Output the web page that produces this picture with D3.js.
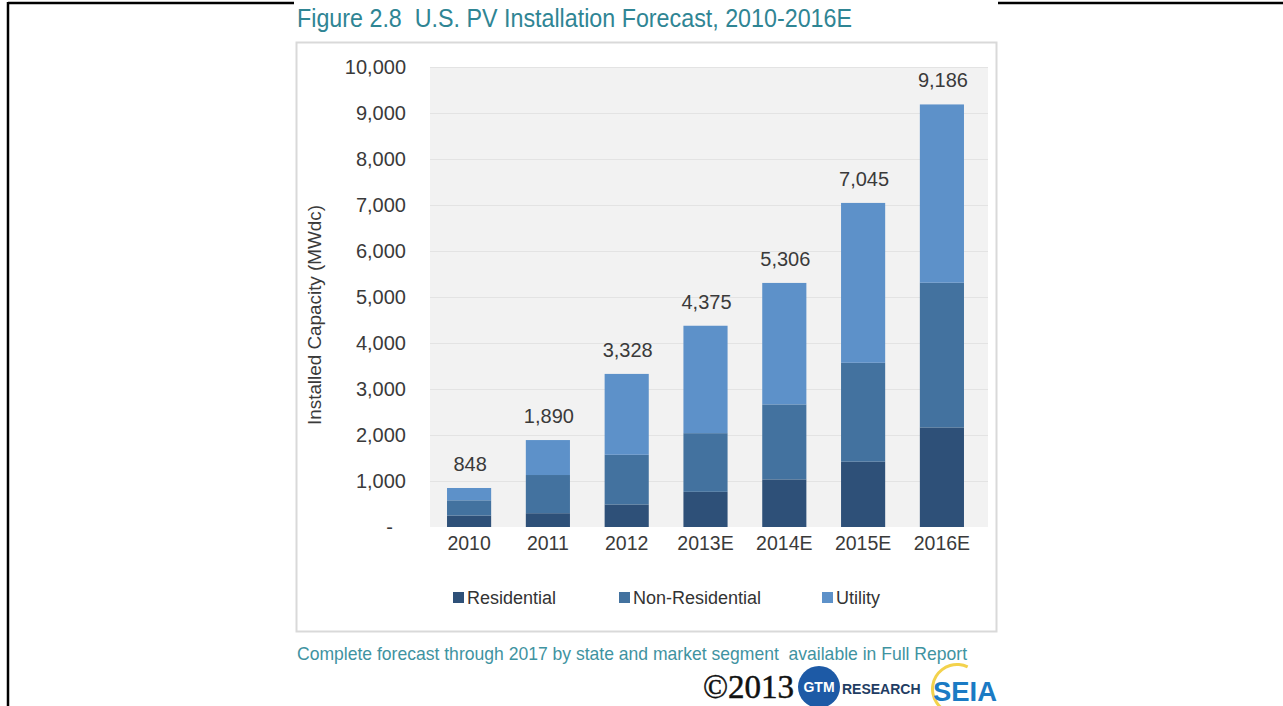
<!DOCTYPE html>
<html>
<head>
<meta charset="utf-8">
<script src="https://cdn.jsdelivr.net/npm/d3@7"></script>
<style>
  html, body { margin: 0; padding: 0; background: #fff; }
  svg { display: block; }
</style>
</head>
<body>
<svg id="chart" width="1283" height="706"></svg>
<script>
// U.S. PV installations by market segment (MWdc)
const years = ["2010", "2011", "2012", "2013E", "2014E", "2015E", "2016E"];
const residential    = [250, 300, 490, 765, 1035, 1420, 2165];
const nonResidential = [330, 830, 1080, 1275, 1630, 2150, 3145];
const utility        = [268, 760, 1758, 2335, 2641, 3475, 3876];
const segmentNames   = ["Residential", "Non-Residential", "Utility"];
const yTicks = [0, 1000, 2000, 3000, 4000, 5000, 6000, 7000, 8000, 9000, 10000];

const colors = ["#2e5078", "#43729f", "#5d91c9"];
const textColor = "#3a3a3a";
const teal = "#2f8594";

const rows = years.map((yr, i) => ({
  year: yr,
  Residential: residential[i],
  "Non-Residential": nonResidential[i],
  Utility: utility[i]
}));

const svg = d3.select("#chart");

// page frame lines
svg.append("line").attr("x1", 8).attr("x2", 1283).attr("y1", 3).attr("y2", 3)
  .attr("stroke", "#000").attr("stroke-width", 2.5);
svg.append("line").attr("x1", 8).attr("x2", 8).attr("y1", 2).attr("y2", 706)
  .attr("stroke", "#000").attr("stroke-width", 2.5);

// figure sheet
svg.append("rect").attr("x", 294).attr("y", 0).attr("width", 704).attr("height", 706)
  .attr("fill", "#fff");

// title (condensed to the figure's width)
svg.append("text")
  .attr("x", 297).attr("y", 27)
  .attr("font-family", "'Liberation Sans', Arial, sans-serif")
  .attr("font-size", 25)
  .attr("fill", teal)
  .attr("xml:space", "preserve")
  .attr("textLength", 555)
  .attr("lengthAdjust", "spacingAndGlyphs")
  .text("Figure 2.8  U.S. PV Installation Forecast, 2010-2016E");

// chart box
svg.append("rect")
  .attr("x", 296.5).attr("y", 42.5).attr("width", 700).attr("height", 589)
  .attr("fill", "#fff").attr("stroke", "#d9d9d9").attr("stroke-width", 2);

// scales
const y = d3.scaleLinear().domain([0, 10000]).range([527, 67]);
const x = d3.scaleBand().domain(years).range([430, 981])
  .paddingInner(0.44).paddingOuter(0.216);

// plot background
svg.append("rect")
  .attr("x", 430).attr("y", y(10000))
  .attr("width", 558).attr("height", y(0) - y(10000))
  .attr("fill", "#f2f2f2");

// gridlines
svg.append("g").selectAll("line")
  .data(yTicks.filter(d => d > 0))
  .join("line")
  .attr("x1", 430).attr("x2", 988)
  .attr("y1", d => Math.round(y(d)) + 0.5).attr("y2", d => Math.round(y(d)) + 0.5)
  .attr("stroke", "#e3e3e3").attr("stroke-width", 1);

// y axis
const yAxis = svg.append("g")
  .attr("transform", "translate(406,0)")
  .call(d3.axisLeft(y).tickValues(yTicks).tickSize(0).tickPadding(0)
    .tickFormat(d => d === 0 ? "-" : d3.format(",")(d)));
yAxis.select(".domain").remove();
yAxis.selectAll("text")
  .attr("font-family", "'Liberation Sans', Arial, sans-serif")
  .attr("font-size", 20)
  .attr("fill", textColor);
yAxis.selectAll(".tick").filter(d => d === 0).select("text")
  .attr("dx", -13);

// x axis
const xAxis = svg.append("g")
  .attr("transform", `translate(0,${y(0)})`)
  .call(d3.axisBottom(x).tickSize(0).tickPadding(9));
xAxis.select(".domain").remove();
xAxis.selectAll("text")
  .attr("font-family", "'Liberation Sans', Arial, sans-serif")
  .attr("font-size", 19.5)
  .attr("fill", textColor);

// stacked bars
const series = d3.stack().keys(segmentNames)(rows);
svg.append("g").selectAll("g")
  .data(series)
  .join("g")
  .attr("fill", (d, i) => colors[i])
  .selectAll("rect")
  .data(d => d)
  .join("rect")
  .attr("x", d => x(d.data.year))
  .attr("width", x.bandwidth())
  .attr("y", d => y(d[1]))
  .attr("height", d => y(d[0]) - y(d[1]));

// totals above bars
const topLayer = series[series.length - 1];
svg.append("g").selectAll("text")
  .data(topLayer)
  .join("text")
  .attr("x", d => x(d.data.year) + x.bandwidth() / 2 + 1)
  .attr("y", d => y(d[1]) - 17)
  .attr("text-anchor", "middle")
  .attr("font-family", "'Liberation Sans', Arial, sans-serif")
  .attr("font-size", 20)
  .attr("fill", textColor)
  .text(d => d3.format(",")(d[1]));

// y axis title
svg.append("text")
  .attr("transform", "translate(321,315) rotate(-90)")
  .attr("text-anchor", "middle")
  .attr("font-family", "'Liberation Sans', Arial, sans-serif")
  .attr("font-size", 19)
  .attr("fill", textColor)
  .attr("textLength", 220)
  .attr("lengthAdjust", "spacingAndGlyphs")
  .text("Installed Capacity (MWdc)");

// legend
const legendX = [453, 619, 822];
const legend = svg.append("g").selectAll("g")
  .data(segmentNames)
  .join("g")
  .attr("transform", (d, i) => `translate(${legendX[i]},592)`);
legend.append("rect")
  .attr("width", 11).attr("height", 11)
  .attr("fill", (d, i) => colors[i]);
legend.append("text")
  .attr("x", 14).attr("y", 12)
  .attr("font-family", "'Liberation Sans', Arial, sans-serif")
  .attr("font-size", 18)
  .attr("fill", "#333")
  .text(d => d);

// footnote
svg.append("text")
  .attr("x", 297).attr("y", 660)
  .attr("font-family", "'Liberation Sans', Arial, sans-serif")
  .attr("font-size", 19)
  .attr("fill", "#3f93a1")
  .attr("xml:space", "preserve")
  .attr("textLength", 670)
  .attr("lengthAdjust", "spacingAndGlyphs")
  .text("Complete forecast through 2017 by state and market segment  available in Full Report");

// copyright and logos
svg.append("text")
  .attr("x", 703).attr("y", 698)
  .attr("font-family", "'Liberation Serif', 'Times New Roman', serif")
  .attr("font-size", 33)
  .attr("fill", "#111")
  .attr("stroke", "#111").attr("stroke-width", 0.5)
  .text("©2013");

svg.append("circle").attr("cx", 819).attr("cy", 687).attr("r", 21).attr("fill", "#1d5aa6");
svg.append("text")
  .attr("x", 819).attr("y", 692)
  .attr("text-anchor", "middle")
  .attr("font-family", "'Liberation Sans', Arial, sans-serif")
  .attr("font-weight", "bold")
  .attr("font-size", 14)
  .attr("fill", "#fff")
  .text("GTM");
svg.append("text")
  .attr("x", 842).attr("y", 694)
  .attr("font-family", "'Liberation Sans', Arial, sans-serif")
  .attr("font-weight", "bold")
  .attr("font-size", 14)
  .attr("fill", "#1f3d63")
  .text("RESEARCH");

svg.append("path")
  .attr("d", d3.arc()({ innerRadius: 23, outerRadius: 26, startAngle: -2.5, endAngle: 0.45 }))
  .attr("transform", "translate(957,689)")
  .attr("fill", "#f3d24c");
svg.append("text")
  .attr("x", 933).attr("y", 701)
  .attr("font-family", "'Liberation Sans', Arial, sans-serif")
  .attr("font-weight", "bold")
  .attr("font-size", 28)
  .attr("fill", "#1b7bc4")
  .attr("textLength", 64)
  .attr("lengthAdjust", "spacingAndGlyphs")
  .text("SEIA");
</script>
</body>
</html>
